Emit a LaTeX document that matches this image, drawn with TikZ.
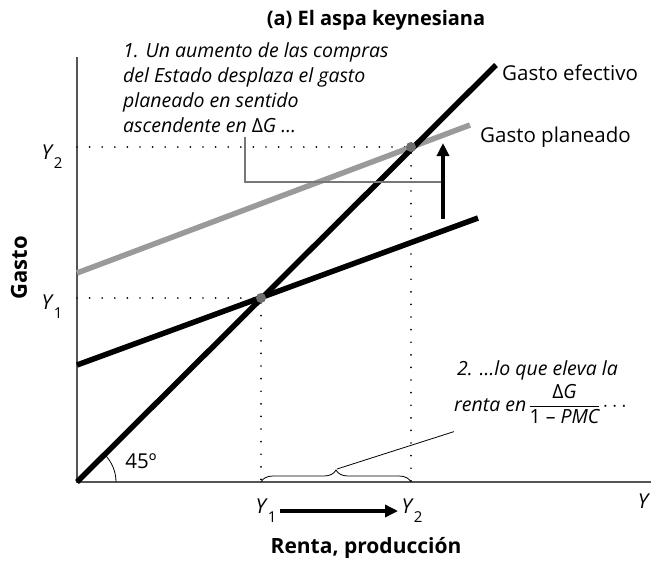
\documentclass[tikz,border=0pt]{standalone}
\usepackage{fontspec}
\setmainfont{Open Sans}
\usetikzlibrary{arrows.meta,positioning,decorations.pathreplacing}
\definecolor{plancolor}{HTML}{9A9A9A}
\definecolor{axiscolor}{HTML}{555555}
\definecolor{eqcolor}{HTML}{6E6E6E}
\setlength{\arrayrulewidth}{0.8pt}
\newcommand{\ylab}[1]{\textit{Y}\raisebox{-0.45em}{\fontsize{15}{15}\selectfont #1}}

\begin{document}
\begin{tikzpicture}[
  x=1pt, y=-1pt,
  font=\fontsize{20.5}{24}\selectfont,
  axisline/.style={axiscolor, line width=1.8pt},
  curve/.style={line width=5.5pt},
  guide/.style={line width=1.9pt, line cap=round, dash pattern=on 0pt off 12.6pt},
  note/.style={font=\fontsize{19.5}{25}\selectfont\itshape, align=left, inner sep=0pt},
  heading/.style={font=\fontsize{21}{24}\selectfont\bfseries},
  lead/.style={line width=0.8pt},
  hook/.style={axiscolor!80, line width=1.3pt},
  eqdot/.style={circle, fill=eqcolor, inner sep=0pt, minimum size=10pt},
  shiftarrow/.style={-{Triangle[length=13pt,width=12pt]}, line width=4pt}
]
\useasboundingbox (0,0) rectangle (651,560);
\node[heading, font=\fontsize{20}{24}\selectfont\bfseries] (title) at (376,20) {(a) El aspa keynesiana};

% ejes
\coordinate (origin) at (77,482);
\coordinate (ytop) at (77,57);
\coordinate (xend) at (651,482);
\draw[axisline] (ytop) -- (origin) -- (xend);

% equilibrios
\coordinate (E1) at (261,298);
\coordinate (E2) at (411,147);
\draw[guide] (origin |- E1) -- (E1) -- (E1 |- origin);
\draw[guide] (origin |- E2) -- (E2) -- (E2 |- origin);

% rectas
\coordinate (old0) at (77,365);
\coordinate (old1) at (478,218);
\coordinate (plan0) at (77,273);
\coordinate (plan1) at (470,125);
\coordinate (eff1) at (496,65);
\draw[curve] (old0) -- (old1);
\draw[curve, plancolor] (plan0) -- (plan1);
\draw[curve] (origin) -- (eff1);
\node[eqdot] (eq1) at (E1) {};
\node[eqdot] (eq2) at (E2) {};

\node[anchor=base west, inner sep=0pt] (efflab) at (502,80) {Gasto efectivo};
\node[anchor=base west, inner sep=0pt] (planlab) at (480,142) {Gasto planeado};

% desplazamiento
\coordinate (shift0) at (443,219);
\coordinate (shift1) at (443,143);
\draw[shiftarrow] (shift0) -- (shift1);

\node[note, anchor=north west] (note1) at (123,42) {1. Un aumento de las compras\\del Estado desplaza el gasto\\planeado en sentido\\ascendente en {\upshape Δ}G …};
\coordinate (hook0) at (245,137);
\coordinate (hook1) at (441,182);
\draw[hook] (hook0) |- (hook1);

% 45 grados
\draw[line width=0.8pt] (116,482) arc[start angle=0, end angle=45, radius=39pt];
\node (angle) at (141,461) {45º};

% ejes: textos
\node (y2lab) at (52,157) {\ylab{2}};
\node (y1lab) at (52,307) {\ylab{1}};
\node[heading, font=\fontsize{22}{24}\selectfont\bfseries, rotate=90] (ylabel) at (19,268) {Gasto};
\node (xsym) at (644,501) {\textit{Y}};
\node (y1bot) at (266,511) {\ylab{1}};
\node (y2bot) at (412,511) {\ylab{2}};
\draw[shiftarrow] (y1bot) -- (y2bot);
\node[heading] (xlabel) at (366,548) {Renta, producción};

% llave y multiplicador
\draw[lead, decorate, decoration={brace, amplitude=12pt}] (E1 |- origin) -- (E2 |- origin);
\coordinate (bracetip) at (337,469);
\node[note, anchor=base west] (note2a) at (457,375) {2. …lo que eleva la};
\node[note, anchor=west] (note2b) at (454,406) {renta en\,\begin{tabular}[c]{@{}c@{}}{\upshape Δ}G\\\hline {\upshape 1 –} PMC\end{tabular}\,$\cdots$};
\draw[lead] (bracetip) -- (note2b.south west);
\end{tikzpicture}
\end{document}
